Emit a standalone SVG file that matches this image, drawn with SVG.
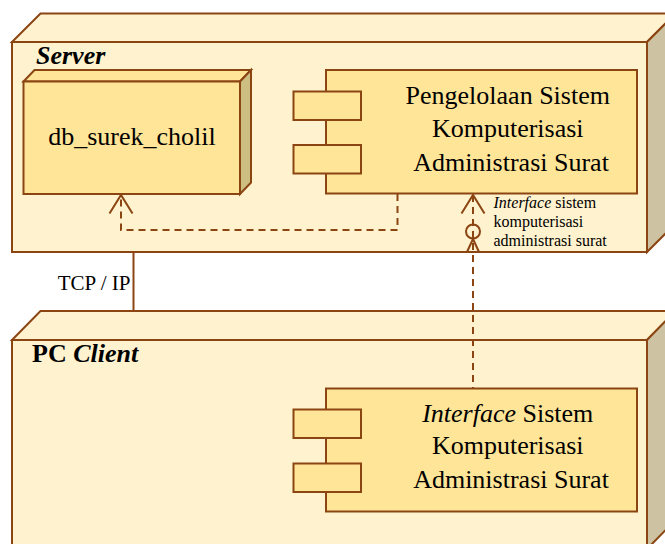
<svg xmlns="http://www.w3.org/2000/svg" width="665" height="544" viewBox="0 0 665 544">
  <style>
    .ln { stroke: #8B4513; stroke-width: 2; stroke-linejoin: miter; }
    .front { fill: #FFF2CF; }
    .side { fill: #CDC2A2; }
    .inner { fill: #FFE597; }
    .innerside { fill: #CDBE82; }
    .t { font-family: "Liberation Serif", "Times New Roman", serif; fill: #000; }
    .big { font-size: 26px; }
    .dash { fill: none; stroke: #8B4513; stroke-width: 2; stroke-dasharray: 7 5; }
    .arr { fill: none; stroke: #8B4513; stroke-width: 2; }
  </style>
  <rect width="665" height="544" fill="#FFFFFF"/>

  <g id="server">
    <polygon class="front ln" points="12,42 40.5,13.5 675.5,13.5 647,42"/>
    <polygon class="side ln" points="647,42 675.5,13.5 675.5,223.5 647,252"/>
    <rect class="front ln" x="12" y="42" width="635" height="210"/>
    <text class="t" x="36" y="64" font-size="26" font-weight="bold" font-style="italic">Server</text>
  </g>

  <g id="pc-client">
    <polygon class="front ln" points="12,340 40.5,311 675.5,311 647,340"/>
    <polygon class="side ln" points="647,340 675.5,311 675.5,520 647,549"/>
    <rect class="front ln" x="12" y="340" width="635" height="209"/>
    <text class="t" x="32" y="362" font-size="26" font-weight="bold">PC <tspan font-style="italic">Client</tspan></text>
  </g>

  <g id="db">
    <polygon class="inner ln" points="23.5,81.5 34.5,70 251,70 240,81.5"/>
    <polygon class="innerside ln" points="240,81.5 251,70 251,182.5 240,194"/>
    <rect class="inner ln" x="23.5" y="81.5" width="216.5" height="112.5"/>
    <text class="t big" x="132" y="145" text-anchor="middle">db_surek_cholil</text>
  </g>

  <g id="comp-server">
    <rect class="inner ln" x="326" y="70" width="311" height="123.5"/>
    <rect class="inner ln" x="293.5" y="91.5" width="67.5" height="28.5"/>
    <rect class="inner ln" x="293.5" y="145" width="67.5" height="28.5"/>
    <text class="t big" text-anchor="middle">
      <tspan x="511" y="104">Pengelolaan Sistem</tspan>
      <tspan x="511" y="137">Komputerisasi</tspan>
      <tspan x="511" y="170.5">Administrasi Surat</tspan>
    </text>
  </g>

  <g id="comp-client">
    <rect class="inner ln" x="326" y="388.5" width="311" height="123"/>
    <rect class="inner ln" x="293.5" y="409.5" width="67.5" height="28.5"/>
    <rect class="inner ln" x="293.5" y="463.5" width="67.5" height="28.5"/>
    <text class="t big" text-anchor="middle">
      <tspan x="511" y="421.5"><tspan font-style="italic">Interface</tspan> Sistem</tspan>
      <tspan x="511" y="454">Komputerisasi</tspan>
      <tspan x="511" y="488">Administrasi Surat</tspan>
    </text>
  </g>

  <g id="connectors">
    <line class="ln" x1="133.5" y1="252" x2="133.5" y2="311"/>
    <text class="t" x="130.5" y="290" font-size="21" text-anchor="end">TCP / IP</text>

    <path class="dash" d="M397.5,194 V230 H121 V195"/>
    <polyline class="arr" points="109.5,213.5 121,195 132.5,213.5"/>

    <line class="dash" x1="473" y1="195" x2="473" y2="388.5"/>
    <polyline class="arr" points="461.5,213.5 473,195 484.5,213.5"/>
    <circle cx="473" cy="231.5" r="7" fill="none" stroke="#8B4513" stroke-width="2"/>
    <polyline class="arr" points="467,252 473,239 479,252"/>

    <text class="t" font-size="16">
      <tspan x="493.5" y="207.5"><tspan font-style="italic">Interface</tspan> sistem</tspan>
      <tspan x="493.5" y="226.5">komputerisasi</tspan>
      <tspan x="493.5" y="245.5">administrasi surat</tspan>
    </text>
  </g>
</svg>
